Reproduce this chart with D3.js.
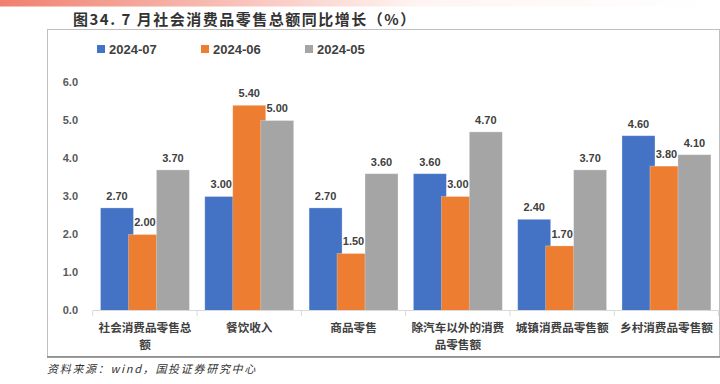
<!DOCTYPE html>
<html>
<head>
<meta charset="utf-8">
<script src="https://cdn.jsdelivr.net/npm/d3@7"></script>
<style>
  body { margin: 0; background: #fff; }
  svg { display: block; }
</style>
</head>
<body>
<div class="chart"></div>
<script>
const categories = ["社会消费品零售总额", "餐饮收入", "商品零售", "除汽车以外的消费品零售额", "城镇消费品零售额", "乡村消费品零售额"];
const seriesNames = ["2024-07", "2024-06", "2024-05"];
const jul = [2.7, 3.0, 2.7, 3.6, 2.4, 4.6];
const jun = [2.0, 5.4, 1.5, 3.0, 1.7, 3.8];
const may = [3.7, 5.0, 3.6, 4.7, 3.7, 4.1];
const yTicks = [0, 1, 2, 3, 4, 5, 6];
const colors = ["#4472c4", "#ed7d31", "#a5a5a5"];

const W = 720, H = 384;
const font = "'Liberation Sans', Arial, sans-serif";
const cjk = "'Noto Sans CJK SC', 'Noto Sans', sans-serif";

const svg = d3.select(".chart").append("svg").attr("width", W).attr("height", H);

// top gradient strip
const grad = svg.append("defs").append("linearGradient").attr("id", "topbar");
grad.append("stop").attr("offset", "0%").attr("stop-color", "#f0806f");
grad.append("stop").attr("offset", "58%").attr("stop-color", "#fff4f2");
grad.append("stop").attr("offset", "100%").attr("stop-color", "#ffffff");
svg.append("rect").attr("x", 0).attr("y", 0).attr("width", W).attr("height", 6.5).attr("fill", "url(#topbar)");

// title
svg.append("text")
  .attr("x", 73).attr("y", 25)
  .attr("font-family", cjk).attr("font-weight", 700).attr("font-size", "15px")
  .attr("letter-spacing", "1.5px").attr("fill", "#333")
  .text("图34. 7 月社会消费品零售总额同比增长（%）");

// chart frame
svg.append("rect")
  .attr("x", 47.5).attr("y", 29.5).attr("width", 672).attr("height", 327)
  .attr("fill", "none").attr("stroke", "#bfbfbf").attr("stroke-width", 1);
svg.append("line")
  .attr("x1", 47).attr("x2", W).attr("y1", 357).attr("y2", 357)
  .attr("stroke", "#7f7f7f").attr("stroke-width", 1.5);

// source
svg.append("text")
  .attr("x", 47).attr("y", 373)
  .attr("font-family", cjk).attr("font-style", "italic").attr("font-size", "11px")
  .attr("fill", "#333").attr("letter-spacing", "1.7px")
  .text("资料来源：wind，国投证券研究中心");

// scales
const x = d3.scaleBand().domain(categories).range([92.8, 718.6]);
const y = d3.scaleLinear().domain([0, 6]).range([310.5, 82.5]);

// y axis labels
svg.append("g")
  .selectAll("text")
  .data(yTicks)
  .join("text")
  .attr("x", 78).attr("y", (d) => y(d)).attr("dy", "0.35em")
  .attr("text-anchor", "end")
  .attr("font-family", font).attr("font-weight", 700).attr("font-size", "11px")
  .attr("fill", "#595959")
  .text((d) => d.toFixed(1));

// bars
const data = [jul, jun, may];
const groupW = x.bandwidth() * 0.85;
const step = groupW / 3.17;
const barW = step * 1.18;
const pad = (x.bandwidth() - (2 * step + barW)) / 2;

data.forEach((vals, s) => {
  svg.append("g")
    .selectAll("rect")
    .data(vals)
    .join("rect")
    .attr("x", (d, i) => x(categories[i]) + pad + s * step)
    .attr("y", (d) => y(d))
    .attr("width", barW)
    .attr("height", (d) => y(0) - y(d))
    .attr("fill", colors[s])
    .attr("stroke", "#ffffff")
    .attr("stroke-opacity", 0.35)
    .attr("stroke-width", 0.8);
});

// category axis
const xAxis = svg.append("g");
xAxis.append("line")
  .attr("x1", x.range()[0]).attr("x2", x.range()[1])
  .attr("y1", 310.5).attr("y2", 310.5)
  .attr("stroke", "#d9d9d9");
xAxis.selectAll(".tk")
  .data(categories.concat([null]))
  .join("line")
  .attr("class", "tk")
  .attr("x1", (d, i) => x.range()[0] + i * x.step())
  .attr("x2", (d, i) => x.range()[0] + i * x.step())
  .attr("y1", 310.5).attr("y2", 316)
  .attr("stroke", "#d9d9d9");

// category labels, wrapped after 8 characters
const catLabels = xAxis.selectAll(".cat")
  .data(categories)
  .join("text")
  .attr("class", "cat")
  .attr("x", (d) => x(d) + x.bandwidth() / 2)
  .attr("y", 332)
  .attr("text-anchor", "middle")
  .attr("font-family", cjk).attr("font-weight", 600).attr("font-size", "11.6px")
  .attr("fill", "#404040");
catLabels.each(function (d) {
  const lines = [];
  for (let k = 0; k < d.length; k += 8) lines.push(d.slice(k, k + 8));
  d3.select(this).selectAll("tspan")
    .data(lines)
    .join("tspan")
    .attr("x", x(d) + x.bandwidth() / 2)
    .attr("dy", (t, j) => (j === 0 ? 0 : 17))
    .text((t) => t);
});

// data labels
data.forEach((vals, s) => {
  svg.append("g")
    .selectAll("text")
    .data(vals)
    .join("text")
    .attr("x", (d, i) => x(categories[i]) + pad + s * step + barW / 2)
    .attr("y", (d) => y(d) - 12)
    .attr("dy", "0.35em")
    .attr("text-anchor", "middle")
    .attr("font-family", font).attr("font-weight", 700).attr("font-size", "11px")
    .attr("fill", "#404040")
    .text((d) => d.toFixed(2));
});

// legend
const legend = svg.append("g")
  .selectAll("g")
  .data(seriesNames)
  .join("g")
  .attr("transform", (d, i) => `translate(${97 + i * 104},49)`);
legend.append("rect")
  .attr("x", 0).attr("y", -4).attr("width", 8).attr("height", 8)
  .attr("fill", (d, i) => colors[i]);
legend.append("text")
  .attr("x", 12).attr("y", 0).attr("dy", "0.36em")
  .attr("font-family", font).attr("font-weight", 700).attr("font-size", "13px")
  .attr("fill", "#404040")
  .text((d) => d);
</script>
</body>
</html>
